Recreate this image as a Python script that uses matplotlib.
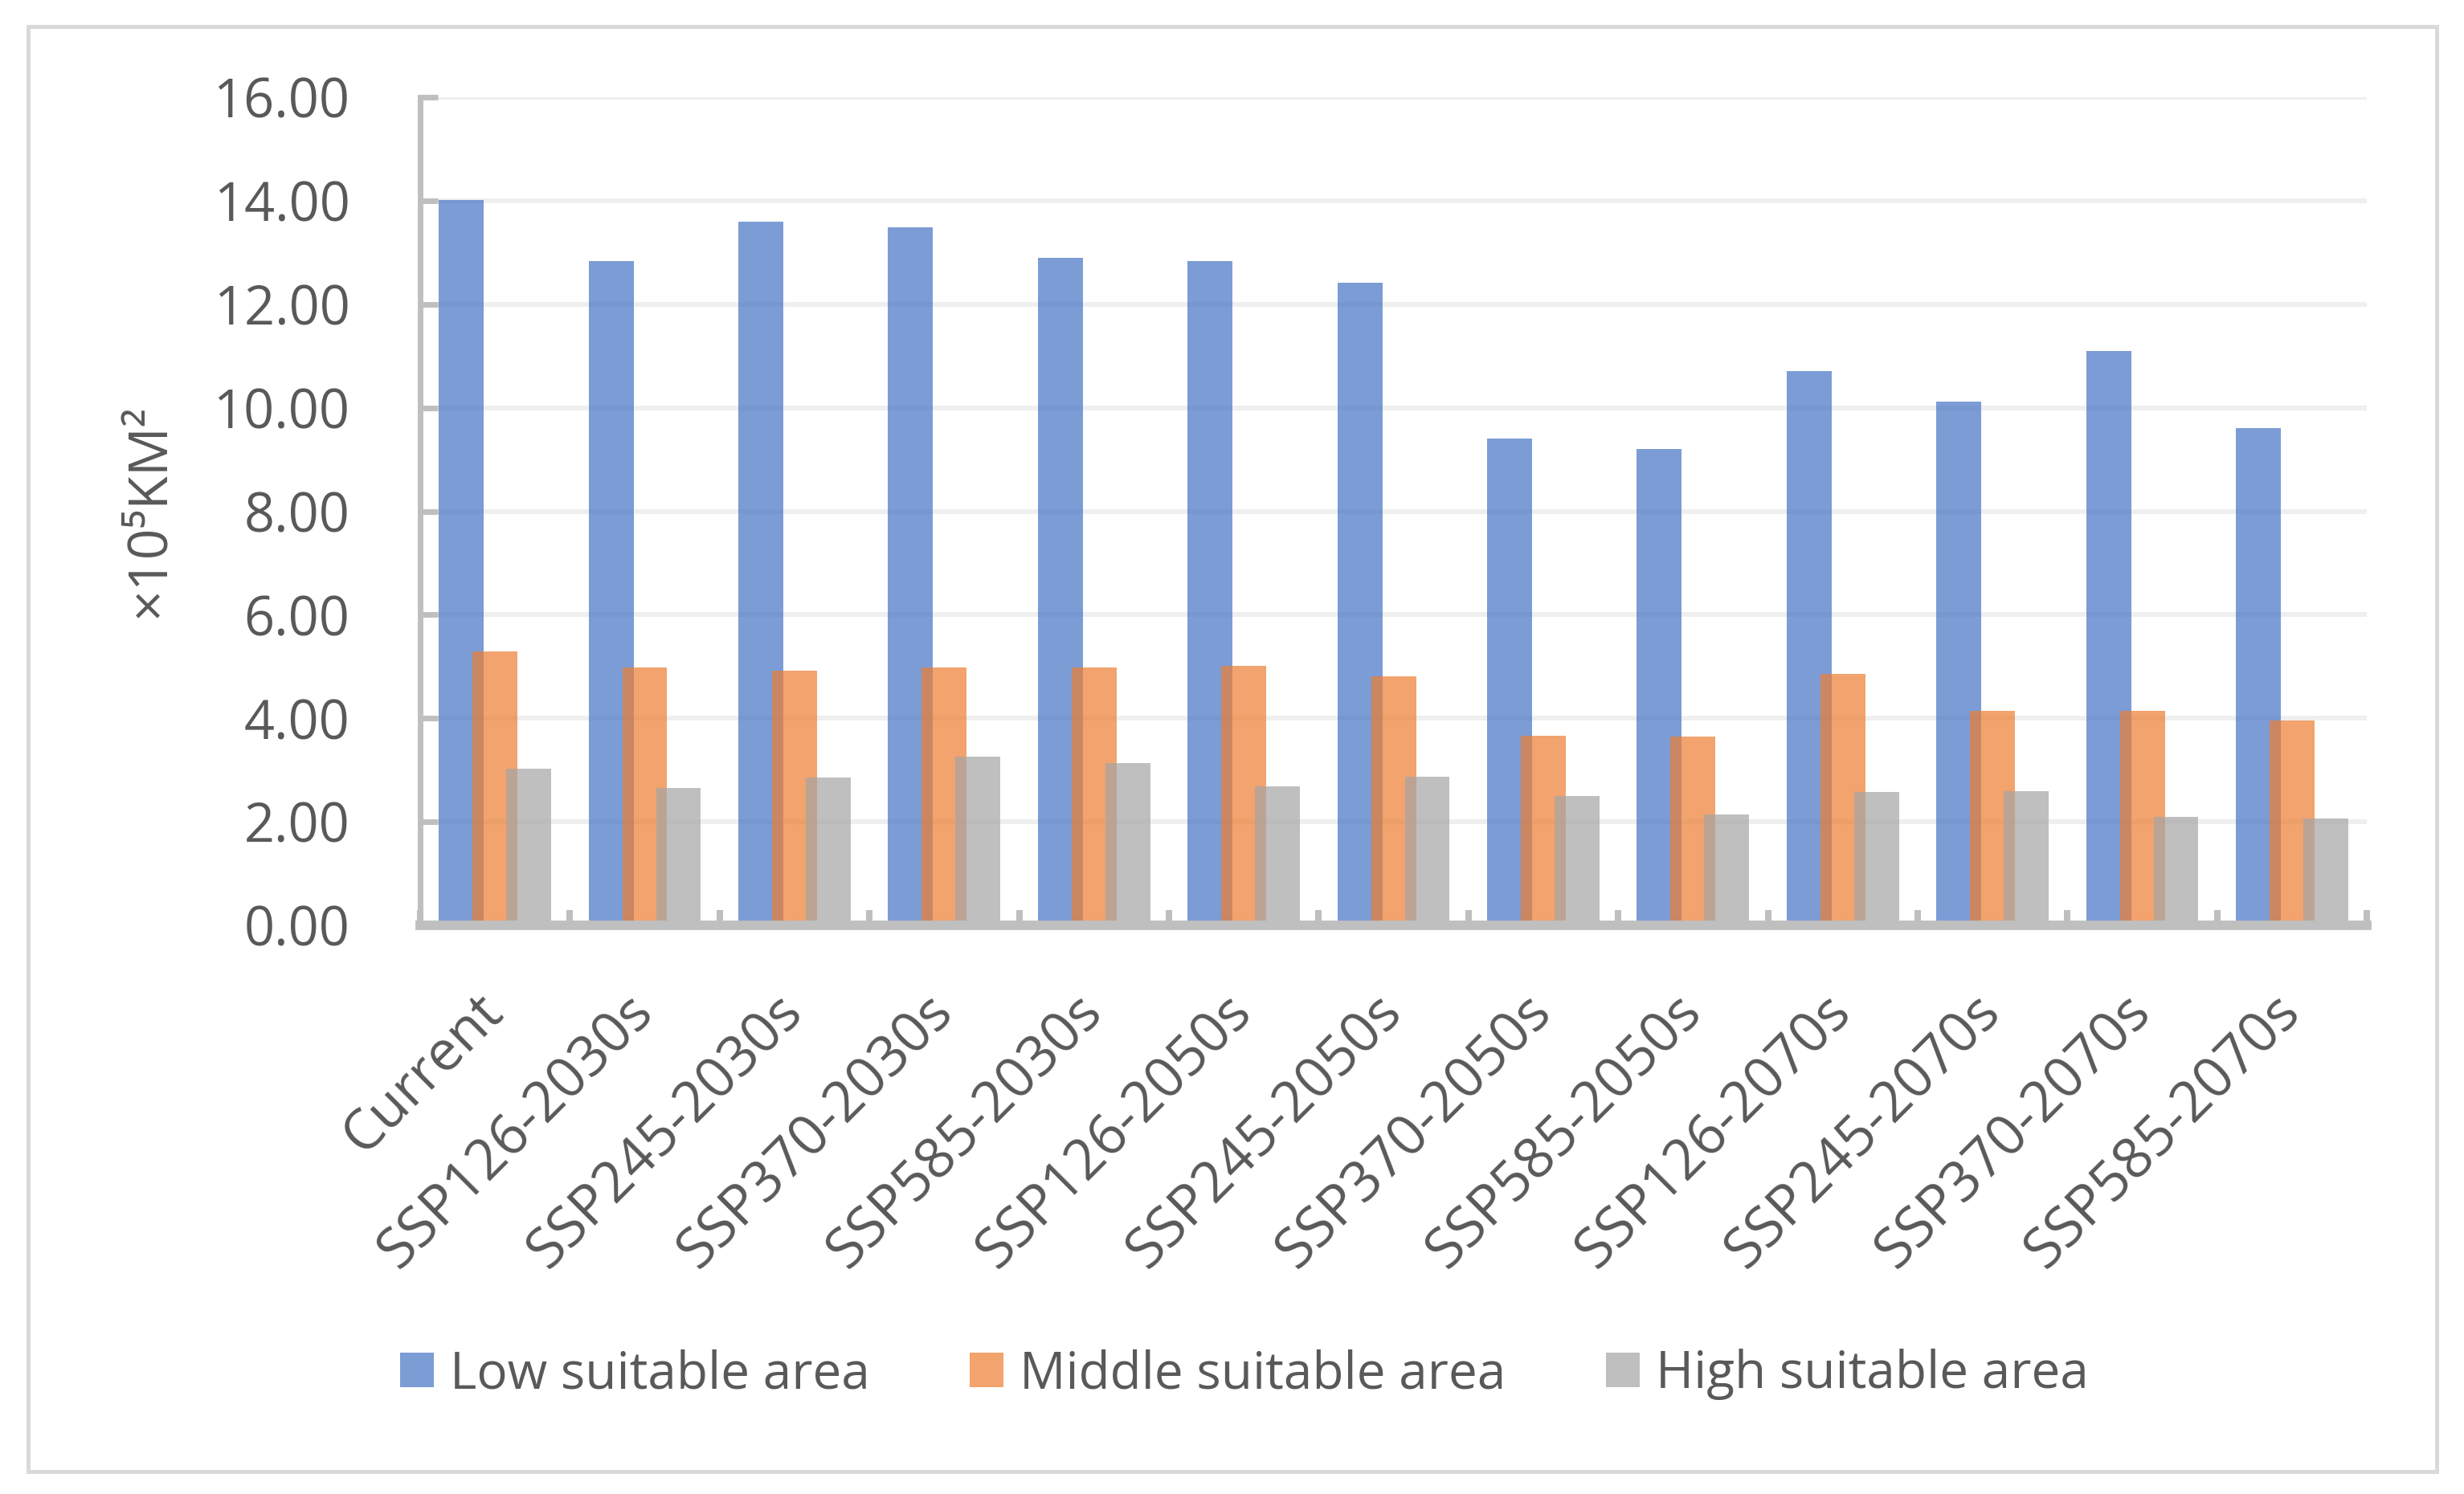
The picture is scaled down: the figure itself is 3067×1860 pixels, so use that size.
import numpy as np
import matplotlib
matplotlib.use("Agg")
import matplotlib.pyplot as plt
from matplotlib.patches import Rectangle, Patch

# ---------------- data ----------------
categories = ["Current", "SSP126-2030s", "SSP245-2030s", "SSP370-2030s",
              "SSP585-2030s", "SSP126-2050s", "SSP245-2050s", "SSP370-2050s",
              "SSP585-2050s", "SSP126-2070s", "SSP245-2070s", "SSP370-2070s",
              "SSP585-2070s"]
low_area = [14.02, 12.84, 13.60, 13.49, 12.89, 12.84, 12.41,
            9.40, 9.20, 10.71, 10.12, 11.10, 9.61]
middle_area = [5.30, 4.98, 4.92, 4.98, 4.99, 5.01, 4.81,
               3.67, 3.65, 4.86, 4.14, 4.14, 3.96]
high_area = [3.02, 2.66, 2.85, 3.26, 3.14, 2.68, 2.88,
             2.50, 2.14, 2.58, 2.60, 2.10, 2.06]
series_names = ["Low suitable area", "Middle suitable area", "High suitable area"]
y_ticks = [0, 2, 4, 6, 8, 10, 12, 14, 16]

# ---------------- styling ----------------
colors = ["#4472C4", "#ED7D31", "#A5A5A5"]
alpha = 0.7
text_color = "#595959"
axis_color = "#BFBFBF"
grid_color = "#EFEFEF"
font = ["Open Sans", "DejaVu Sans"]
plt.rcParams["font.family"] = font

fig = plt.figure(figsize=(30.67, 18.60), dpi=100)
ax = fig.add_axes([0.1705, 0.3806, 0.7901, 0.5543])

x = np.arange(len(categories))
bar_w = 0.30
step = 0.225
for i, vals in enumerate([low_area, middle_area, high_area]):
    ax.bar(x + (i - 1) * step, vals, width=bar_w, color=colors[i],
           alpha=alpha, linewidth=0, zorder=2 + i)

ax.set_xlim(-0.5, len(categories) - 0.5)
ax.set_ylim(0, 16)
ax.set_yticks(y_ticks)
ax.set_yticklabels(["%.2f" % v for v in y_ticks])
ax.yaxis.grid(True, color=grid_color, linewidth=4.3, zorder=0)
ax.set_axisbelow(True)

# spines
for side in ["top", "right"]:
    ax.spines[side].set_visible(False)
ax.spines["left"].set_color(axis_color)
ax.spines["left"].set_linewidth(5)
ax.spines["bottom"].set_color(axis_color)
ax.spines["bottom"].set_linewidth(8.5)
ax.spines["bottom"].set_zorder(6)

ax.tick_params(axis="y", direction="in", length=16, width=5,
               color=axis_color, labelsize=48, labelcolor=text_color, pad=63)

# category labels at centres, tick marks at category boundaries
ax.set_xticks(x)
ax.set_xticks(np.arange(-0.5, len(categories), 1.0), minor=True)
ax.tick_params(axis="x", which="major", length=0, pad=70)
ax.tick_params(axis="x", which="minor", direction="in", length=14,
               width=5.8, color=axis_color)
ax.set_xticklabels(categories, rotation=45, ha="right", va="center",
                   rotation_mode="anchor", fontsize=50, color=text_color)

fig.text(0.061, 0.658, "×10⁵KM²", rotation=90, ha="center", va="center",
         fontsize=49, color=text_color, family=font)

handles = [Patch(facecolor=c, alpha=alpha, linewidth=0) for c in colors]
fig.legend(handles, series_names, loc="center", bbox_to_anchor=(0.505, 0.080),
           ncol=3, frameon=False, fontsize=46, labelcolor=text_color,
           handlelength=0.66, handleheight=0.66, handletextpad=0.31,
           columnspacing=1.95)

# outer chart border
fig.patches.append(Rectangle((0.0114, 0.0151), 0.9775, 0.967,
                             transform=fig.transFigure, fill=False,
                             edgecolor="#D9D9D9", linewidth=3.6))

fig.savefig("out.png", dpi=100)
